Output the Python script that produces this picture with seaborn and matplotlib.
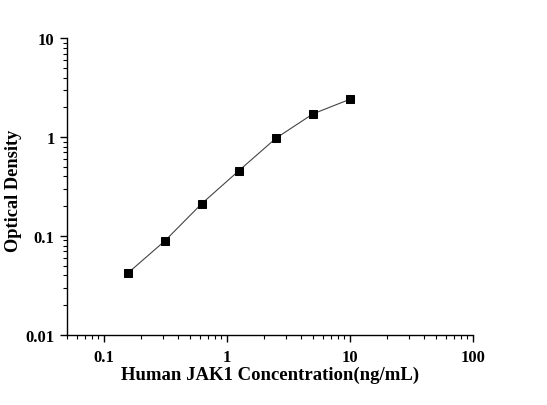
import matplotlib
matplotlib.use("Agg")
import matplotlib.pyplot as plt
import seaborn as sns
import pandas as pd
from matplotlib.ticker import LogLocator, FixedLocator, FixedFormatter, NullFormatter

concentration = [0.156, 0.312, 0.625, 1.25, 2.5, 5, 10]
optical_density = [0.042, 0.089, 0.213, 0.458, 0.975, 1.72, 2.42]
x_ticks = [0.1, 1, 10, 100]
x_tick_labels = ["0.1", "1", "10", "100"]
y_ticks = [0.01, 0.1, 1, 10]
y_tick_labels = ["0.01", "0.1", "1", "10"]

df = pd.DataFrame({"conc": concentration, "od": optical_density})

sns.set_theme(style="ticks")
plt.rcParams['font.family'] = ['Liberation Serif', 'DejaVu Serif']
plt.rcParams['text.color'] = 'black'
plt.rcParams['axes.labelcolor'] = 'black'
plt.rcParams['xtick.color'] = 'black'
plt.rcParams['ytick.color'] = 'black'

fig = plt.figure(figsize=(5.47, 4.06), dpi=100)
ax = fig.add_axes([0.1225, 0.173, 0.742, 0.730])

sns.lineplot(data=df, x="conc", y="od", ax=ax, color="#444444", linewidth=0.8,
             marker="s", markersize=5.5, markerfacecolor="black", markeredgecolor="black")

ax.set_xscale("log")
ax.set_yscale("log")
ax.set_xlim(0.05, 100)
ax.set_ylim(0.01, 10)

ax.xaxis.set_major_locator(FixedLocator(x_ticks))
ax.xaxis.set_major_formatter(FixedFormatter(x_tick_labels))
ax.yaxis.set_major_locator(FixedLocator(y_ticks))
ax.yaxis.set_major_formatter(FixedFormatter(y_tick_labels))
ax.xaxis.set_minor_locator(LogLocator(base=10, subs=range(2, 10)))
ax.yaxis.set_minor_locator(LogLocator(base=10, subs=range(2, 10)))
ax.xaxis.set_minor_formatter(NullFormatter())
ax.yaxis.set_minor_formatter(NullFormatter())

for lbl in ax.get_xticklabels() + ax.get_yticklabels():
    lbl.set_fontweight("bold")
    lbl.set_fontsize(12)
    lbl.set_color("black")

ax.tick_params(which="major", direction="out", length=5, width=1, color="black")
ax.tick_params(which="minor", direction="out", length=3, width=0.8, color="black")
ax.tick_params(axis="x", which="major", pad=5)
ax.tick_params(axis="y", which="major", pad=4)

sns.despine(ax=ax)
for sp in ["left", "bottom"]:
    ax.spines[sp].set_color("black")
    ax.spines[sp].set_linewidth(1)

ax.set_xlabel("Human JAK1 Concentration(ng/mL)", fontsize=13.5, fontweight="bold",
              color="black")
ax.xaxis.set_label_coords(0.5, -0.105)
ax.set_ylabel("Optical Density", fontsize=13.2, fontweight="bold", color="black")
ax.yaxis.set_label_coords(-0.11, 0.49)

fig.savefig("out.png", dpi=100, facecolor="white")
